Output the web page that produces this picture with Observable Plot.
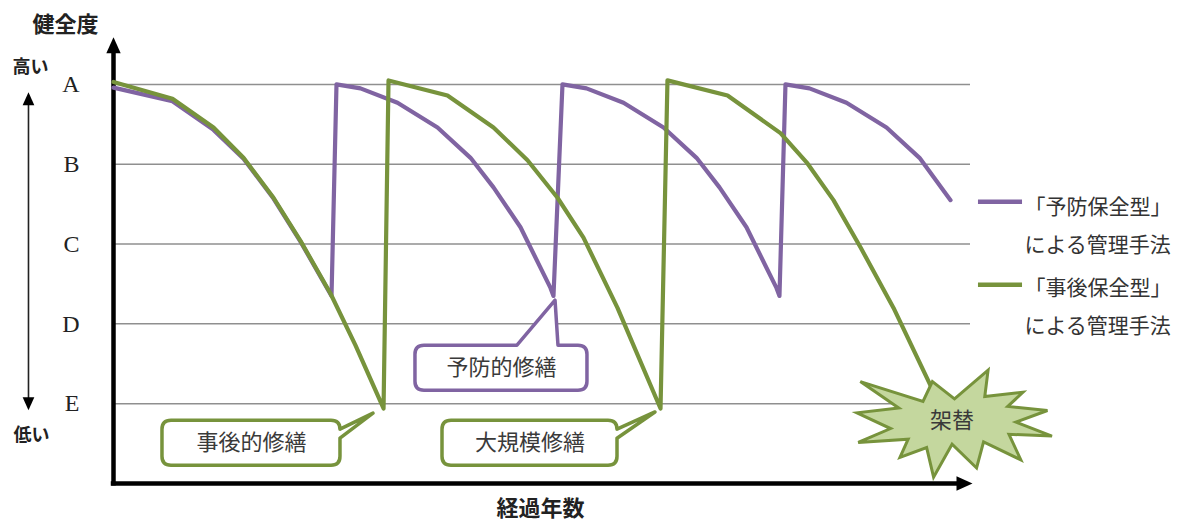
<!DOCTYPE html>
<html><head><meta charset="utf-8">
<script src="https://cdn.jsdelivr.net/npm/d3@7"></script>
<script src="https://cdn.jsdelivr.net/npm/@observablehq/plot@0.6"></script>
<style>
html,body{margin:0;padding:0;background:#fff;}
#chart{width:1191px;height:521px;}
</style>
</head><body><div id="chart"></div>
<script>
// ---------- data ----------
const grades = ["A", "B", "C", "D", "E"];
const gradeValues = [4, 3, 2, 1, 0];

// 予防保全型 (preventive): years elapsed, health score (A=4 … E=0)
const preventiveYears  = [0, 6.88, 11.67, 15.17, 18.67, 21.82, 25.44,
  26.02, 28.82, 33.14, 37.81, 41.66, 44.34, 47.49, 50.99, 51.34,
  52.39, 55.19, 59.51, 64.18, 68.03, 70.71, 73.86, 77.36, 77.71,
  78.41, 81.21, 85.53, 90.20, 94.05, 97.67];
const preventiveHealth = [3.96, 3.79, 3.43, 3.07, 2.57, 2.03, 1.35,
  4.00, 3.95, 3.77, 3.46, 3.08, 2.71, 2.21, 1.45, 1.35,
  4.00, 3.95, 3.77, 3.46, 3.08, 2.71, 2.21, 1.45, 1.35,
  4.00, 3.95, 3.77, 3.46, 3.08, 2.55];

// 事後保全型 (reactive)
const reactiveYears  = [0, 6.88, 11.67, 15.17, 18.67, 21.82, 25.32, 28.24, 31.51,
  32.09, 38.97, 44.34, 48.31, 51.81, 54.84, 58.81, 63.83,
  64.64, 71.65, 77.83, 80.98, 84.01, 87.16, 91.02, 95.90];
const reactiveHealth = [4.03, 3.82, 3.46, 3.08, 2.58, 2.04, 1.38, 0.73, -0.06,
  4.05, 3.86, 3.46, 3.05, 2.58, 2.08, 1.20, -0.06,
  4.05, 3.86, 3.39, 3.01, 2.55, 1.96, 1.20, 0.10];

const seriesNames = ["「予防保全型」\nによる管理手法", "「事後保全型」\nによる管理手法"];
const calloutTexts = ["事後的修繕", "予防的修繕", "大規模修繕"];
const burstText = "架替";
const yTitle = "健全度", xTitle = "経過年数", highText = "高い", lowText = "低い";

// ---------- styling / layout ----------
const PURPLE = "#8064a2", GREEN = "#77933c", BURST_FILL = "#c4d79e";
const JP = "'Noto Sans CJK JP', 'Noto Sans', sans-serif";

const preventive = preventiveYears.map((t, i) => ({t, h: preventiveHealth[i]}));
const reactive = reactiveYears.map((t, i) => ({t, h: reactiveHealth[i]}));

// callout layout: box centre, tip (data coords), box size (px), pointer side
const calloutLayout = [
  {cx: 16.10, cy: -0.495, tx: 30.34, ty: -0.125, w: 178, h: 45, side: "right", color: GREEN},
  {cx: 45.27, cy: 0.445,  tx: 51.58, ty: 1.29,   w: 172, h: 45, side: "top",   color: PURPLE},
  {cx: 48.60, cy: -0.495, tx: 63.24, ty: -0.11,  w: 175, h: 45, side: "right", color: GREEN}
];
const callouts = calloutTexts.map((text, i) => ({text, ...calloutLayout[i]}));

// Office "Explosion 1" outline (0..21600 unit box)
const burstShape = [[10800,5800],[14522,0],[14155,5325],[18380,4457],[16702,7315],[21097,8137],
  [17607,10475],[21600,13290],[16837,12942],[18145,18095],[14020,14457],[13247,19737],
  [10532,14935],[8485,21600],[7715,15627],[4762,17617],[5667,13937],[135,14587],[3722,11775],
  [0,8615],[4627,7617],[370,2295],[7312,6320],[8352,2295]];
const burst = {cx: 98.19, cy: -0.257, w: 195, h: 107};

// arrowhead symbol (tall triangle pointing up)
const arrowHead = {
  draw(ctx, size) {
    const r = Math.sqrt(size / Math.PI);
    ctx.moveTo(0, -r);
    ctx.lineTo(r * 0.9, r);
    ctx.lineTo(-r * 0.9, r);
    ctx.closePath();
  }
};

function calloutPath(x0, y0, x1, y1, r, side, tx, ty, b1, b2) {
  let p = `M${x0 + r},${y0}`;
  if (side === "top") p += `L${b1},${y0}L${tx},${ty}L${b2},${y0}`;
  p += `L${x1 - r},${y0}Q${x1},${y0} ${x1},${y0 + r}`;
  if (side === "right") p += `L${x1},${b1}L${tx},${ty}L${x1},${b2}`;
  p += `L${x1},${y1 - r}Q${x1},${y1} ${x1 - r},${y1}L${x0 + r},${y1}Q${x0},${y1} ${x0},${y1 - r}`;
  p += `L${x0},${y0 + r}Q${x0},${y0} ${x0 + r},${y0}Z`;
  return p;
}

function annotationShapes(index, scales) {
  const {x, y} = scales;
  const g = d3.create("svg:g");
  for (const c of callouts) {
    const cx = x(c.cx), cy = y(c.cy);
    const x0 = cx - c.w / 2, x1 = cx + c.w / 2, y0 = cy - c.h / 2, y1 = cy + c.h / 2;
    const b1 = c.side === "top" ? cx + 16 : y0 + 9;
    const b2 = c.side === "top" ? cx + 57 : y0 + 18;
    g.append("path")
      .attr("d", calloutPath(x0, y0, x1, y1, 9, c.side, x(c.tx), y(c.ty), b1, b2))
      .attr("fill", "#fff").attr("stroke", c.color).attr("stroke-width", 3.5)
      .attr("stroke-linejoin", "round");
  }
  const bx = x(burst.cx) - burst.w / 2, by = y(burst.cy) - burst.h / 2;
  const pts = burstShape.map(([u, v]) => [bx + u / 21600 * burst.w, by + v / 21600 * burst.h]);
  g.append("path")
    .attr("d", "M" + pts.map(p => p.join(",")).join("L") + "Z")
    .attr("fill", BURST_FILL).attr("stroke", GREEN).attr("stroke-width", 3)
    .attr("stroke-linejoin", "miter");
  return g.node();
}

const chart = Plot.plot({
  width: 1191, height: 521,
  marginLeft: 113, marginRight: 221, marginTop: 40, marginBottom: 38,
  x: {domain: [0, 100], axis: null},
  y: {domain: [-1, 4.55]},
  style: {fontFamily: JP, background: "#fff", color: "#222"},
  marks: [
    // grid lines at each grade
    Plot.ruleY(gradeValues, {x1: 0, x2: 100, stroke: "#8f8f8f", strokeWidth: 1.5}),
    // grade labels A–E
    Plot.axisY({ticks: gradeValues, tickFormat: d => grades[gradeValues.indexOf(d)],
      tickSize: 0, tickPadding: 34, fontSize: 24, fontFamily: "'Liberation Serif', serif", label: null}),
    // axes with arrowheads
    Plot.ruleX([0], {y1: -1.03, y2: 4.45, stroke: "#000", strokeWidth: 4.5}),
    Plot.ruleY([-1], {x1: -0.26, x2: 99.2, stroke: "#000", strokeWidth: 4.5}),
    Plot.dot([{x: 0, y: 4.49}], {x: "x", y: "y", symbol: arrowHead, r: 8, fill: "#000", stroke: null}),
    Plot.dot([{x: 99.3, y: -1}], {x: "x", y: "y", symbol: arrowHead, r: 8, fill: "#000", stroke: null, rotate: 90}),
    // high/low side arrow
    Plot.ruleX([-9.92], {y1: 0.05, y2: 3.78, stroke: "#222", strokeWidth: 1.6}),
    Plot.dot([{x: -9.92, y: 3.82}], {x: "x", y: "y", symbol: arrowHead, r: 6.5, fill: "#000", stroke: null}),
    Plot.dot([{x: -9.92, y: 0.0}], {x: "x", y: "y", symbol: arrowHead, r: 6.5, fill: "#000", stroke: null, rotate: 180}),
    // series
    Plot.line(preventive, {x: "t", y: "h", stroke: PURPLE, strokeWidth: 4.2}),
    Plot.line(reactive, {x: "t", y: "h", stroke: GREEN, strokeWidth: 4.2}),
    // callouts + explosion
    annotationShapes,
    Plot.text(callouts, {x: "cx", y: "cy", text: "text", fontSize: 22, fill: "#3a3a3a"}),
    Plot.text([burstText], {x: burst.cx - 0.35, y: burst.cy + 0.04, text: d => d, fontSize: 22, fill: "#3a3a3a"}),
    // legend
    Plot.ruleY([2.53], {x1: 100.93, x2: 106.07, stroke: PURPLE, strokeWidth: 4.5}),
    Plot.ruleY([1.49], {x1: 100.93, x2: 106.07, stroke: GREEN, strokeWidth: 4.5}),
    Plot.text([seriesNames[0]], {x: 106.3, y: 2.29, text: d => d, textAnchor: "start", lineAnchor: "middle", fontSize: 21, lineHeight: 1.81, fill: "#333"}),
    Plot.text([seriesNames[1]], {x: 106.3, y: 1.27, text: d => d, textAnchor: "start", lineAnchor: "middle", fontSize: 21, lineHeight: 1.81, fill: "#333"}),
    // titles
    Plot.text([yTitle], {x: -5.6, y: 4.74, text: d => d, fontSize: 22, fontWeight: "bold", fill: "#222"}),
    Plot.text([highText], {x: -9.69, y: 4.21, text: d => d, fontSize: 18, fontWeight: "bold", fill: "#222"}),
    Plot.text([lowText], {x: -9.57, y: -0.40, text: d => d, fontSize: 18, fontWeight: "bold", fill: "#222"}),
    Plot.text([xTitle], {x: 49.82, y: -1.32, text: d => d, fontSize: 22, fontWeight: "bold", fill: "#222"})
  ]
});
document.getElementById("chart").appendChild(chart);
</script>
</body></html>
